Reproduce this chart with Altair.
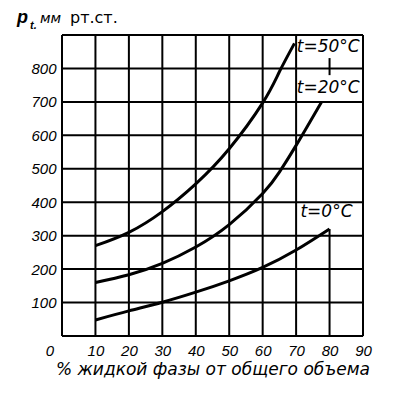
import altair as alt
import pandas as pd

# ---- data ----
x_grid = [0, 10, 20, 30, 40, 50, 60, 70, 90]
x_grid_short = [80]          # gridline at 80 stops where t=0 curve ends
y_grid = [0, 100, 200, 300, 400, 500, 600, 700, 800, 900]
x_tick_labels = [10, 20, 30, 40, 50, 60, 70, 80, 90]
y_tick_labels = [100, 200, 300, 400, 500, 600, 700, 800]

t0_x = [10, 20, 30, 40, 50, 60, 70, 80]
t0_y = [48, 75, 101, 131, 165, 205, 257, 320]
t20_x = [10, 20, 30, 40, 50, 60, 65, 70, 77.6]
t20_y = [160, 183, 217, 266, 333, 426, 490, 570, 700]
t50_x = [10, 20, 30, 40, 50, 60, 65, 69.5]
t50_y = [270, 310, 372, 455, 560, 697, 790, 875]

labels = ["t=50°C", "t=20°C", "t=0°C"]
label_x = [70.2, 70.2, 71.3]
label_y = [864, 741, 371]

font = "Liberation Sans"
xs = alt.Scale(domain=[0, 90], nice=False)
ys = alt.Scale(domain=[0, 900], nice=False)

rows = []
for name, xv, yv in [("t0", t0_x, t0_y), ("t20", t20_x, t20_y), ("t50", t50_x, t50_y)]:
    for a, b in zip(xv, yv):
        rows.append({"s": name, "x": a, "y": b})
curves = pd.DataFrame(rows)

vg = pd.DataFrame({"x": x_grid, "y1": [0] * len(x_grid), "y2": [900] * len(x_grid)})
vg2 = pd.DataFrame({"x": x_grid_short + [80], "y1": [0, 780], "y2": [t0_y[-1], 831]})
hg = pd.DataFrame({"y": y_grid, "x1": [0] * len(y_grid), "x2": [90] * len(y_grid)})

X_TITLE = "% жидкой фазы от общего объема"
x_axis = alt.Axis(values=x_tick_labels, title=X_TITLE)
y_axis = alt.Axis(values=y_tick_labels, title=None)

vlines = alt.Chart(vg).mark_rule(color="black", strokeWidth=2).encode(
    x=alt.X("x:Q", scale=xs, axis=x_axis),
    y=alt.Y("y1:Q", scale=ys, axis=y_axis), y2="y2:Q")
vlines2 = alt.Chart(vg2).mark_rule(color="black", strokeWidth=2).encode(
    x=alt.X("x:Q", scale=xs, axis=x_axis),
    y=alt.Y("y1:Q", scale=ys, axis=y_axis), y2="y2:Q")
hlines = alt.Chart(hg).mark_rule(color="black", strokeWidth=2).encode(
    y=alt.Y("y:Q", scale=ys, axis=y_axis), x=alt.X("x1:Q", scale=xs, axis=x_axis), x2="x2:Q")

lines = alt.Chart(curves).mark_line(color="black", strokeWidth=3, interpolate="natural").encode(
    x=alt.X("x:Q", scale=xs, axis=x_axis), y=alt.Y("y:Q", scale=ys, axis=y_axis), detail="s:N")

lab = pd.DataFrame({"t": labels, "x": label_x, "y": label_y})
texts = alt.Chart(lab).mark_text(align="left", baseline="middle", font="DejaVu Sans",
                                 fontStyle="italic", fontSize=17, color="black").encode(
    x=alt.X("x:Q", scale=xs, axis=x_axis), y=alt.Y("y:Q", scale=ys, axis=y_axis), text="t:N")

zero = alt.Chart(pd.DataFrame({"t": ["0"]})).mark_text(
    font=font, fontStyle="italic", fontSize=15, color="black", baseline="top").encode(
    x=alt.value(-12), y=alt.value(309), text="t:N")

p_lab = alt.Chart(pd.DataFrame({"t": ["p"]})).mark_text(
    font=font, fontStyle="italic", fontWeight="bold", fontSize=18, color="black",
    align="left", baseline="alphabetic").encode(x=alt.value(-45), y=alt.value(-12), text="t:N")
t_sub = alt.Chart(pd.DataFrame({"t": ["t."]})).mark_text(
    font=font, fontStyle="italic", fontWeight="bold", fontSize=11, color="black",
    align="left", baseline="alphabetic").encode(x=alt.value(-32), y=alt.value(-6), text="t:N")
unit1 = alt.Chart(pd.DataFrame({"t": ["мм"]})).mark_text(
    font="DejaVu Sans", fontStyle="italic", fontSize=14, color="black",
    align="left", baseline="alphabetic").encode(x=alt.value(-22), y=alt.value(-12), text="t:N")
unit2 = alt.Chart(pd.DataFrame({"t": ["рт.ст."]})).mark_text(
    font="DejaVu Sans", fontSize=16, color="black",
    align="left", baseline="alphabetic").encode(x=alt.value(8), y=alt.value(-12), text="t:N")

chart = alt.layer(vlines, vlines2, hlines, lines, texts, zero, p_lab, t_sub, unit1, unit2).properties(
    width=301, height=301,
    autosize=alt.AutoSizeParams(type="none"),
    padding={"left": 54, "top": 27, "right": 24, "bottom": 52},
).configure_view(stroke=None).configure(background="white").configure_axis(
    grid=False, ticks=False, domain=False, labelOverlap=False, labelFlush=False,
    labelFont=font, labelFontStyle="italic", labelFontSize=15, labelColor="black",
    titleFont="DejaVu Sans", titleFontStyle="italic", titleFontWeight="normal",
    titleFontSize=17, titleColor="black",
).configure_axisX(labelPadding=7, titlePadding=3).configure_axisY(labelPadding=6)

chart.save("out.html", embed_options={"renderer": "svg", "actions": False})
